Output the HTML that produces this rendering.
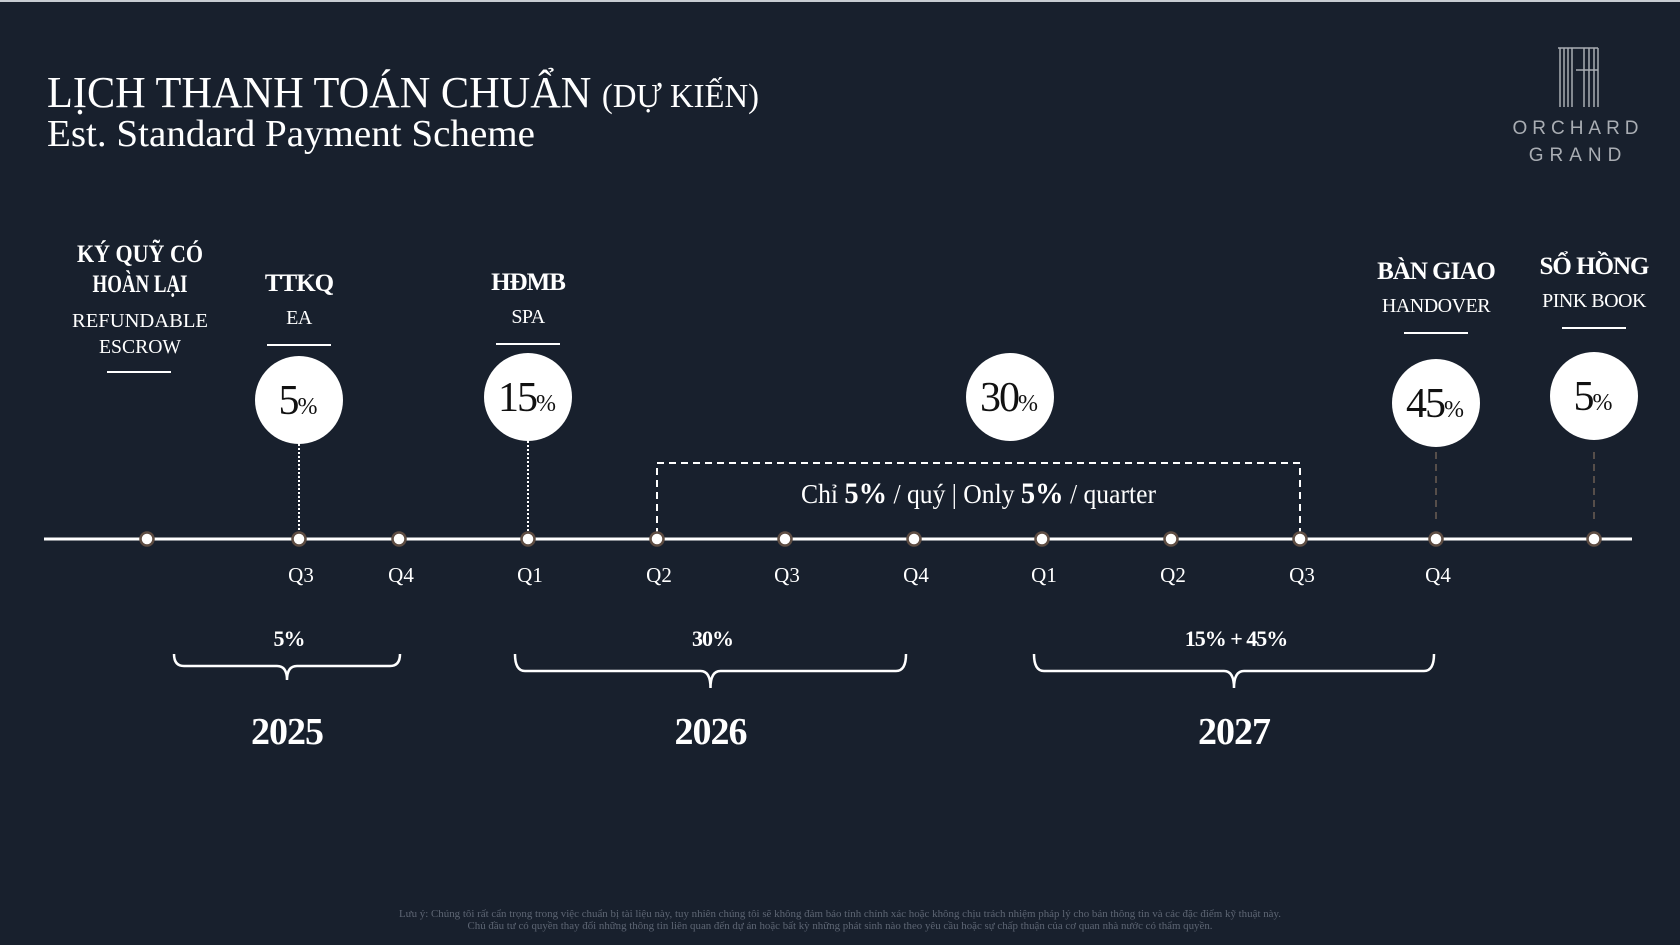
<!DOCTYPE html>
<html><head><meta charset="utf-8">
<style>
html,body{margin:0;padding:0;background:#18202d;}
svg{display:block;}
.serif{font-family:"Liberation Serif","Noto Serif CJK SC",serif;}
.sans{font-family:"Liberation Sans","DejaVu Sans",sans-serif;}
</style></head>
<body>
<svg id="chart" width="1680" height="945" viewBox="0 0 1680 945" xmlns="http://www.w3.org/2000/svg">
  <rect x="0" y="0" width="1680" height="945" fill="#18202d"/>
  <rect x="0" y="0" width="1680" height="2" fill="#c8ccd2"/>

  <!-- Title -->
  <text x="47" y="107" class="serif" fill="#ffffff" font-size="44" textLength="712" lengthAdjust="spacingAndGlyphs">LỊCH THANH TOÁN CHUẨN <tspan font-size="34">(DỰ KIẾN)</tspan></text>
  <text x="47" y="146" class="serif" fill="#ffffff" font-size="38" textLength="488" lengthAdjust="spacingAndGlyphs">Est. Standard Payment Scheme</text>

  <!-- Logo -->
  <g stroke="#a9adb3" stroke-width="1.5">
    <line x1="1560" y1="48" x2="1560" y2="107"/><line x1="1564" y1="48" x2="1564" y2="107"/>
    <line x1="1568" y1="48" x2="1568" y2="107"/><line x1="1572" y1="48" x2="1572" y2="107"/>
    <line x1="1558" y1="48" x2="1598" y2="48"/>
    <line x1="1584" y1="48" x2="1584" y2="107"/><line x1="1589" y1="48" x2="1589" y2="107"/>
    <line x1="1594" y1="48" x2="1594" y2="107"/><line x1="1598" y1="48" x2="1598" y2="107"/>
    <line x1="1576" y1="70" x2="1598" y2="70"/>
  </g>
  <text x="1578" y="134" text-anchor="middle" class="sans" fill="#a9adb3" font-size="19" letter-spacing="5">ORCHARD</text>
  <text x="1578" y="161" text-anchor="middle" class="sans" fill="#a9adb3" font-size="19" letter-spacing="6">GRAND</text>

  <g id="milestones"></g>
  <g id="timeline"></g>
  <g id="braces"></g>

  <!-- Footer -->
  <text x="840" y="917" text-anchor="middle" class="serif" fill="#5d6573" font-size="10" textLength="882" lengthAdjust="spacingAndGlyphs">Lưu ý: Chúng tôi rất cẩn trọng trong việc chuẩn bị tài liệu này, tuy nhiên chúng tôi sẽ không đảm bảo tính chính xác hoặc không chịu trách nhiệm pháp lý cho bản thông tin và các đặc điểm kỹ thuật này.</text>
  <text x="840" y="929" text-anchor="middle" class="serif" fill="#5d6573" font-size="10" textLength="745" lengthAdjust="spacingAndGlyphs">Chủ đầu tư có quyền thay đổi những thông tin liên quan đến dự án hoặc bất kỳ những phát sinh nào theo yêu cầu hoặc sự chấp thuận của cơ quan nhà nước có thẩm quyền.</text>
</svg>
<script>
// Data
const quarterLabels = ["", "Q3", "Q4", "Q1", "Q2", "Q3", "Q4", "Q1", "Q2", "Q3", "Q4", ""];
const milestoneTitles = ["TTKQ", "HĐMB", "", "BÀN GIAO", "SỔ HỒNG"];
const milestoneSubs = ["EA", "SPA", "", "HANDOVER", "PINK BOOK"];
const milestoneValues = [5, 15, 30, 45, 5];
const milestoneQuarter = [1, 3, 6.75, 10, 11];
const yearLabels = ["2025", "2026", "2027"];
const yearSums = ["5%", "30%", "15% + 45%"];

// Layout scale (quarter index -> x)
const qx = [147, 299, 399, 528, 657, 785, 914, 1042, 1171, 1300, 1436, 1594];
function xOf(q){ const i = Math.floor(q); const f = q - i; if (i >= qx.length-1) return qx[qx.length-1]; return qx[i] + (qx[i+1]-qx[i])*f; }
const NS = "http://www.w3.org/2000/svg";
function mk(tag, attrs, parent){ const e = document.createElementNS(NS, tag); for (const k in attrs) e.setAttribute(k, attrs[k]); parent.appendChild(e); return e; }
const LINE_Y = 539;
const tl = document.getElementById("timeline");
const ms = document.getElementById("milestones");
const br = document.getElementById("braces");

const axis = mk("line", {x1:44, y1:LINE_Y, x2:1632, y2:LINE_Y, stroke:"#ffffff", "stroke-width":3}, tl);



const box = mk("path", {d:`M${xOf(4)} ${LINE_Y-4} V463 H${xOf(9)} V${LINE_Y-4}`, fill:"none", stroke:"#ffffff", "stroke-width":2, "stroke-dasharray":"7 5"}, tl);


const bt = mk("text", {x:(xOf(4)+xOf(9))/2, y:503, "text-anchor":"middle", fill:"#ffffff", "font-size":27, class:"serif", textLength:355, lengthAdjust:"spacingAndGlyphs"}, tl);
bt.innerHTML = 'Chỉ <tspan font-weight="bold" font-size="30">5%</tspan> / quý | Only <tspan font-weight="bold" font-size="30">5%</tspan> / quarter';



const esc = [["KÝ QUỸ CÓ",262,25,"bold",126],["HOÀN LẠI",292,25,"bold",95],["REFUNDABLE",327,20,"normal",136],["ESCROW",353,20,"normal",82]];
esc.forEach((r,i)=>{
  const t = mk("text", {x:140, y:r[1], "text-anchor":"middle", fill:"#ffffff", "font-size":r[2], "font-weight":r[3], class:"serif", textLength:r[4], lengthAdjust:"spacingAndGlyphs"}, ms);
  t.textContent = r[0];
  
  
});
const escU = mk("line", {x1:107, y1:372, x2:171, y2:372, stroke:"#ffffff", "stroke-width":2}, ms);



const circY = [400, 397, 397, 403, 396];
const titleY = [291, 290, 0, 279, 274];
milestoneValues.forEach((v,i)=>{
  const x = xOf(milestoneQuarter[i]);
  const cy = circY[i];
  if (milestoneTitles[i]) {
    const t = mk("text", {x:x, y:titleY[i], "text-anchor":"middle", fill:"#ffffff", "font-size":25, "font-weight":"bold", class:"serif", "letter-spacing":"-1"}, ms);
    t.textContent = milestoneTitles[i];
    
    
    const s = mk("text", {x:x, y:titleY[i]+33, "text-anchor":"middle", fill:"#ffffff", "font-size":20, class:"serif", "letter-spacing":"-0.5"}, ms);
    s.textContent = milestoneSubs[i];
    
    
    const u = mk("line", {x1:x-32, y1:titleY[i]+54, x2:x+32, y2:titleY[i]+54, stroke:"#ffffff", "stroke-width":2}, ms);
    
    
  }
  if (i < 2) {
    const c = mk("line", {x1:x, y1:cy+44, x2:x, y2:LINE_Y-6, stroke:"#ffffff", "stroke-width":2, "stroke-dasharray":"2 2"}, ms);
    
    
  } else if (i > 2) {
    const c = mk("line", {x1:x, y1:452, x2:x, y2:522, stroke:"#6b5e55", "stroke-width":1.5, "stroke-dasharray":"7 5"}, ms);
    
    
  }
  const circ = mk("circle", {cx:x, cy:cy, r:44, fill:"#ffffff"}, ms);
  
  
  const pt = mk("text", {x:x-2, y:cy+14, "text-anchor":"middle", fill:"#111111", "font-size":42, class:"serif", "letter-spacing":"-2"}, ms);
  pt.innerHTML = v + '<tspan font-size="24">%</tspan>';
  
  
});

quarterLabels.forEach((q,i)=>{
  const x = xOf(i);
  const d = mk("circle", {cx:x, cy:LINE_Y, r:6.5, fill:"#ffffff", stroke:"#5e4d43", "stroke-width":2.5}, tl);
  
  
  if (q) {
    const t = mk("text", {x:x+2, y:582, "text-anchor":"middle", fill:"#ffffff", "font-size":21, class:"serif"}, tl);
    t.textContent = q;
    
    
  }
});

const xs = [174, 515, 1034], xe = [400, 906, 1434];
yearLabels.forEach((y,i)=>{
  const a = xs[i], b = xe[i], m = (a+b)/2;
  const top = 654, mid = i===0 ? 666 : 671, tip = i===0 ? 680 : 688;
  const p = mk("path", {d:`M${a} ${top} Q${a} ${mid} ${a+10} ${mid} H${m-10} Q${m} ${mid} ${m} ${tip} Q${m} ${mid} ${m+10} ${mid} H${b-10} Q${b} ${mid} ${b} ${top}`, fill:"none", stroke:"#ffffff", "stroke-width":2.5}, br);
  
  
  const s = mk("text", {x:m+2, y:646, "text-anchor":"middle", fill:"#ffffff", "font-size":22, "font-weight":"bold", class:"serif", "letter-spacing":"-1"}, br);
  s.textContent = yearSums[i];
  
  
  const t = mk("text", {x:m, y:744, "text-anchor":"middle", fill:"#ffffff", "font-size":38, "font-weight":"bold", class:"serif", "letter-spacing":"-1"}, br);
  t.textContent = y;
  
  
});
</script>
</body></html>
